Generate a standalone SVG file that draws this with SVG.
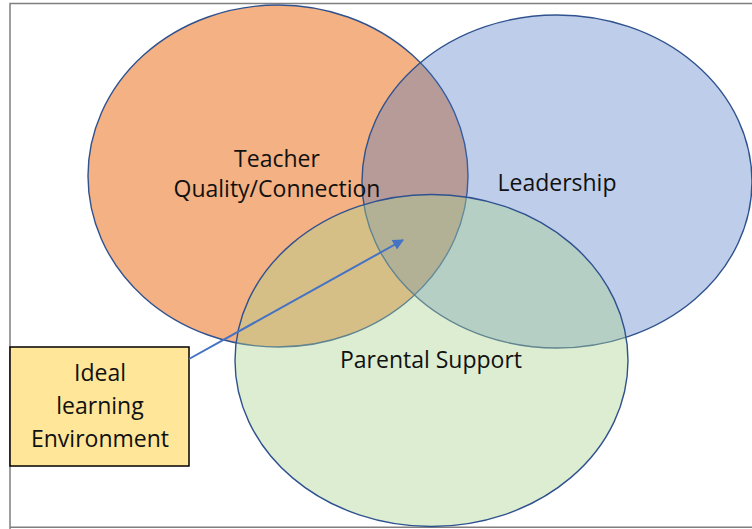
<svg xmlns="http://www.w3.org/2000/svg" width="752" height="529" viewBox="0 0 752 529">
  <style>
    .lbl { font-family: "Open Sans", "Liberation Sans", sans-serif; font-size: 23px; fill: #111; text-anchor: middle; }
    .circ { stroke: #2F528F; stroke-width: 1.4; }
  </style>
  <defs>
    <marker id="arrow" viewBox="0 0 10 10" refX="9" refY="5" markerWidth="6.5" markerHeight="5.5" orient="auto" markerUnits="strokeWidth">
      <path d="M0,0 L10,5 L0,10 z" fill="#4472C4"/>
    </marker>
  </defs>
  <rect x="0" y="0" width="752" height="529" fill="#ffffff"/>
  <g id="frame" fill="none" stroke="#7f7f7f" stroke-width="1.5">
    <polyline points="10,529 10,3.5 752,3.5"/>
    <line x1="10" y1="527.3" x2="752" y2="527.3"/>
  </g>
  <g id="teacher">
    <ellipse class="circ" cx="278" cy="176" rx="190" ry="171" fill="#ED7D31" fill-opacity="0.6"/>
  </g>
  <g id="leadership">
    <ellipse class="circ" cx="557" cy="181.5" rx="195" ry="166.5" fill="#4472C4" fill-opacity="0.35"/>
  </g>
  <g id="parental">
    <ellipse class="circ" cx="431.5" cy="360.5" rx="196.5" ry="166" fill="#A9D18E" fill-opacity="0.4"/>
  </g>
  <g id="labels">
    <text class="lbl" x="277" y="167">Teacher</text>
    <text class="lbl" x="277" y="197">Quality/Connection</text>
    <text class="lbl" x="557" y="191">Leadership</text>
    <text class="lbl" x="431" y="368">Parental Support</text>
  </g>
  <g id="ideal">
    <rect x="10" y="347" width="179" height="119" fill="#FFE699" stroke="#000" stroke-width="1.5"/>
    <text class="lbl" x="100" y="381">Ideal</text>
    <text class="lbl" x="100" y="414">learning</text>
    <text class="lbl" x="100" y="447">Environment</text>
  </g>
  <g id="connectors">
    <line x1="189" y1="359" x2="403" y2="240" stroke="#4472C4" stroke-width="2" marker-end="url(#arrow)"/>
  </g>
</svg>
